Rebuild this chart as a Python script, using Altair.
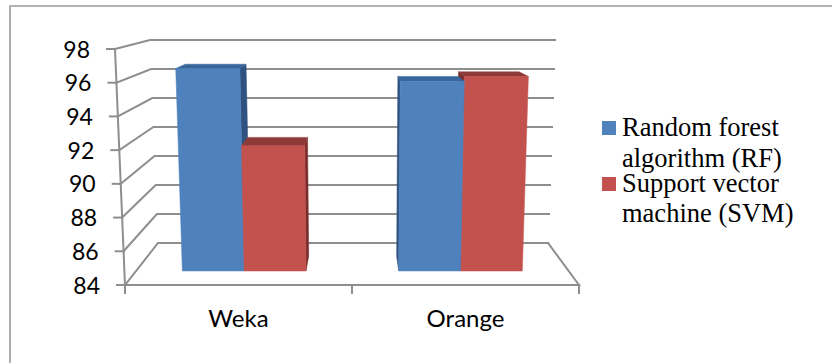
import altair as alt
import pandas as pd

W, H = 832, 363

# Chart values
tools = ["Weka", "Orange"]
rf_values = [96.6, 95.8]
svm_values = [91.8, 96.1]
y_ticks = [84, 86, 88, 90, 92, 94, 96, 98]
legend_lines = [["Random forest", "algorithm (RF)"], ["Support vector", "machine (SVM)"]]

# Colours: front, top and side faces of each series
FACES = {
    0: {"front": "#4f81bd", "top": "#38659a", "side": "#2f5280"},
    1: {"front": "#c3524e", "top": "#8e3a38", "side": "#7a2f2d"},
}
GRID = "#8e8e8e"

V_MIN, V_MAX = y_ticks[0], y_ticks[-1]
BAR_DEPTH_START, BAR_DEPTH_END = 1 / 3, 1 / 3 + 0.35
BAR_SHARE = 1 / 3.5    # width of one bar as a share of its category
SIDE_GAP = 0.75 / 3.5  # empty share of the category on each side of its bars


def project(u, v, d):
    """Map floor position u (0-1), value v and depth d (0 front, 1 back) to the canvas."""
    t = (v - V_MIN) / (V_MAX - V_MIN)
    fy, by = 285 - 236 * t, 243 - 203 * t
    fl, fr = 125 - 10 * t, 579 + 10 * t
    bl, br = 158 - 8 * t, 548 + 7 * t
    y = fy + (by - fy) * d
    left = fl + (bl - fl) * d
    right = fr + (br - fr) * d
    return left + (right - left) * u, y


x_enc = alt.X("x:Q", scale=alt.Scale(domain=[0, W], nice=False), axis=None)
y_enc = alt.Y("y:Q", scale=alt.Scale(domain=[H, 0], nice=False), axis=None)


def segments(points, group=0):
    return [{"x": x, "y": y, "g": group, "i": i} for i, (x, y) in enumerate(points)]


def line_layer(rows, color=GRID, width=2.0):
    return (
        alt.Chart(pd.DataFrame(rows))
        .mark_line(color=color, strokeWidth=width, interpolate="linear", strokeCap="square")
        .encode(x=x_enc, y=y_enc, detail="g:N", order="i:Q")
    )


def polygon_layer(points, color):
    closed = list(points) + [points[0]]
    return (
        alt.Chart(pd.DataFrame(segments(closed)))
        .mark_line(fill=color, stroke=color, strokeWidth=0.5)
        .encode(x=x_enc, y=y_enc, order="i:Q")
    )


# Frame, walls, floor and tick marks
frame_rows = segments([(10, H), (10, 6), (W, 6)])
grid_rows = []
group = 0
for v in y_ticks:
    grid_rows += segments([project(0, v, 0), project(0, v, 1), project(1, v, 1)], group)
    group += 1
    fx, fy = project(0, v, 0)
    grid_rows += segments([(fx - 8, fy), (fx, fy)], group)
    group += 1
grid_rows += segments([project(0, V_MIN, 0), project(0, V_MAX, 0)], group)
group += 1
grid_rows += segments([project(0, V_MIN, 0), project(1, V_MIN, 0), project(1, V_MIN, 1)], group)
group += 1
for u in [0, 0.5, 1]:
    fx, fy = project(u, V_MIN, 0)
    grid_rows += segments([(fx, fy), (fx, fy + 8)], group)
    group += 1

layers = [line_layer(frame_rows, "#9a9a9a", 1.6), line_layer(grid_rows)]

# Bars, painted from the outside towards the centre of the view
bars = []
for c, _ in enumerate(tools):
    for s, values in enumerate([rf_values, svm_values]):
        u0 = (c + SIDE_GAP + s * BAR_SHARE) / 2
        bars.append((s, values[c], u0, u0 + BAR_SHARE / 2))
bars.sort(key=lambda b: -abs((b[2] + b[3]) / 2 - 0.5))

for s, value, u0, u1 in bars:
    d0, d1 = BAR_DEPTH_START, BAR_DEPTH_END
    faces = FACES[s]
    edge = u1 if (u0 + u1) / 2 < 0.5 else u0
    side = [project(edge, V_MIN, d0), project(edge, value, d0), project(edge, value, d1), project(edge, V_MIN, d1)]
    top = [project(u0, value, d0), project(u1, value, d0), project(u1, value, d1), project(u0, value, d1)]
    front = [project(u0, V_MIN, d0), project(u1, V_MIN, d0), project(u1, value, d0), project(u0, value, d0)]
    layers.append(polygon_layer(side, faces["side"]))
    layers.append(polygon_layer(top, faces["top"]))
    layers.append(polygon_layer(front, faces["front"]))

# Value labels next to the left-hand ticks
tick_labels = []
for v in y_ticks:
    fx, fy = project(0, v, 0)
    tick_labels.append({"x": fx - 25, "y": fy + 1.5, "t": str(v)})
layers.append(
    alt.Chart(pd.DataFrame(tick_labels))
    .mark_text(font="Lato", fontSize=23, align="right", baseline="middle", color="#000000")
    .encode(x=x_enc, y=y_enc, text="t:N")
)

# Category labels below the floor
cat_labels = []
for c, name in enumerate(tools):
    fx, fy = project((c + 0.5) / 2, V_MIN, 0)
    cat_labels.append({"x": fx, "y": fy + 42, "t": name})
layers.append(
    alt.Chart(pd.DataFrame(cat_labels))
    .mark_text(font="Lato", fontSize=24, align="center", baseline="alphabetic", color="#000000")
    .encode(x=x_enc, y=y_enc, text="t:N")
)

# Legend
swatches = pd.DataFrame({"x": [609, 609], "y": [128, 184], "s": [0, 1]})
layers.append(
    alt.Chart(swatches)
    .mark_square(size=196, opacity=1, filled=True)
    .encode(
        x=x_enc,
        y=y_enc,
        color=alt.Color(
            "s:N",
            scale=alt.Scale(domain=[0, 1], range=[FACES[0]["front"], FACES[1]["front"]]),
            legend=None,
        ),
    )
)
legend_y = [[136, 167], [192, 222]]
legend_rows = []
for lines, ys in zip(legend_lines, legend_y):
    for line, y in zip(lines, ys):
        legend_rows.append({"x": 622, "y": y, "t": line})
layers.append(
    alt.Chart(pd.DataFrame(legend_rows))
    .mark_text(font="Liberation Serif", fontSize=26.5, align="left", baseline="alphabetic", color="#000000")
    .encode(x=x_enc, y=y_enc, text="t:N")
)

chart = (
    alt.layer(*layers)
    .properties(width=W, height=H, padding=0, autosize=alt.AutoSizeParams(type="none"), background="white")
    .configure_view(stroke=None)
)
chart.save("out.html", embed_options={"renderer": "svg", "actions": False})
